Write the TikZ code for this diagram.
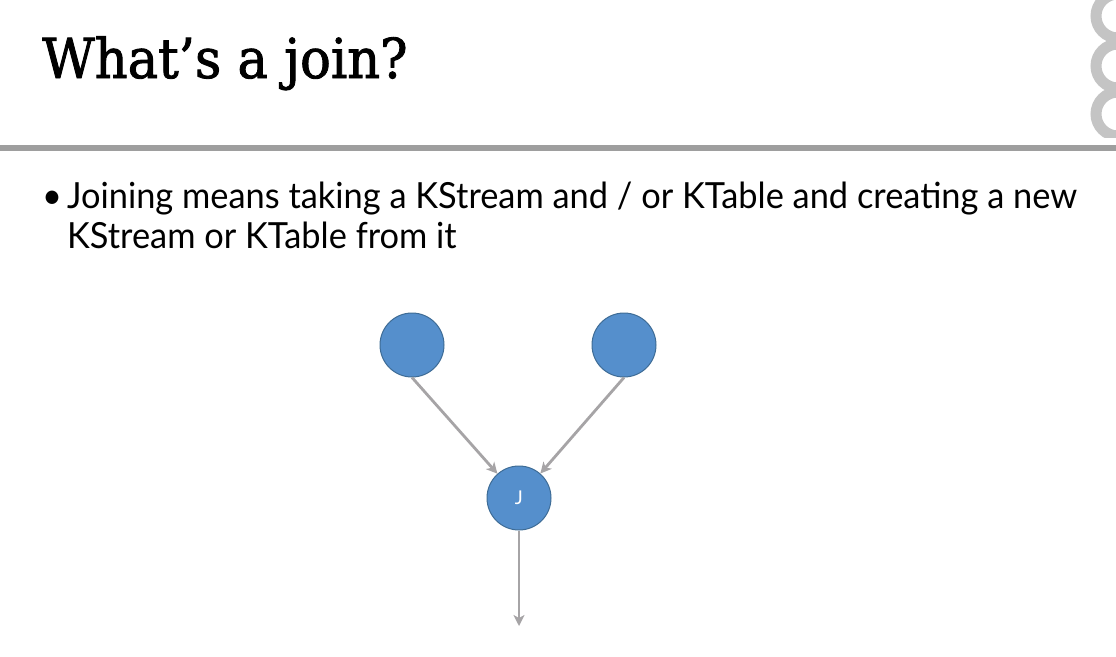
\documentclass[tikz,border=0pt]{standalone}
\usepackage{fontspec}
\setmainfont{Lato}
\newfontfamily\titlefont[FakeStretch=0.93,FakeBold=1.6]{DejaVu Serif}
\newfontfamily\bodyfont[FakeStretch=0.955]{Lato}
\newfontfamily\labelfont{Lato}
\usetikzlibrary{arrows.meta}
\definecolor{nodefill}{RGB}{85,143,204}
\definecolor{nodeedge}{RGB}{62,108,150}
\definecolor{linkgray}{RGB}{166,164,166}
\definecolor{rulegray}{RGB}{158,158,158}
\definecolor{chaingray}{RGB}{196,196,196}
\tikzset{
  opnode/.style={circle, fill=nodefill, draw=nodeedge, line width=1pt,
    minimum size=64pt, inner sep=0pt, text=white, font=\labelfont\fontsize{19}{19}\selectfont},
  link/.style={draw=linkgray, line width=2.8pt,
    -{Stealth[length=11pt,width=11pt,inset=3pt]}},
  bodytext/.style={anchor=base west, inner sep=0pt, font=\bodyfont\fontsize{36}{40}\selectfont},
}
\begin{document}
\begin{tikzpicture}[x=1pt,y=-1pt]
  \useasboundingbox[fill=white] (0,0) rectangle (1116,656);
  % header chain ornament, cut by the right edge
  \begin{scope}
    \clip (0,0) rectangle (1116,137);
    \foreach \cy in {16,66,114}
      \draw[chaingray, line width=11pt] (1118,\cy) circle[radius=22];
  \end{scope}
  % header rule
  \fill[rulegray] (0,145) rectangle (1116,151);
  % title
  \node[anchor=base west, inner sep=0pt, font=\titlefont\fontsize{55}{55}\selectfont]
    (title) at (42,78) {What’s a join?};
  % bullet text
  \node[bodytext] (bullet) at (42,208) {•};
  \node[bodytext] (line1) at (67,208) {Joining means taking a KStream and / or KTable and creating a new};
  \node[bodytext] (line2) at (67,248) {KStream or KTable from it};
  % join diagram
  \node[opnode] (left) at (412,345) {};
  \node[opnode] (right) at (624,345) {};
  \node[opnode] (join) at (519,498) {J};
  \coordinate (out) at (519,626);
  \draw[link] (left.south) -- (join);
  \draw[link] (right.south) -- (join);
  \draw[link] (join.south) -- (out);
\end{tikzpicture}
\end{document}
